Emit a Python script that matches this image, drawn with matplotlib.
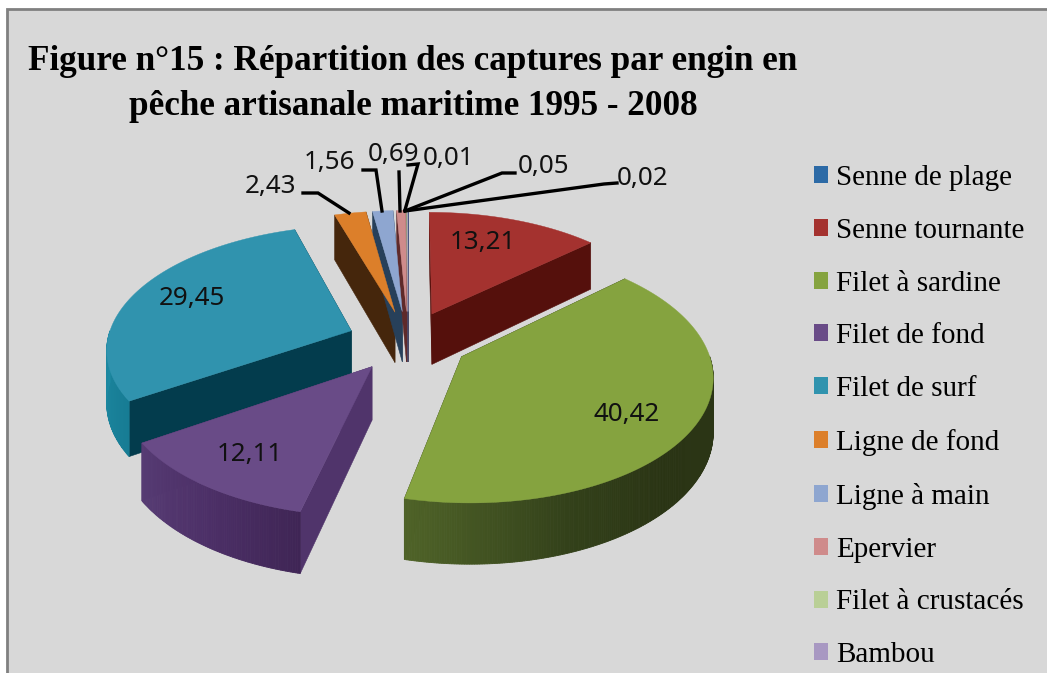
import numpy as np
import matplotlib
matplotlib.use('Agg')
import matplotlib.pyplot as plt
from matplotlib.patches import Patch, Rectangle

categories = ['Senne de plage', 'Senne tournante', 'Filet à sardine', 'Filet de fond', 'Filet de surf',
              'Ligne de fond', 'Ligne à main', 'Epervier', 'Filet à crustacés', 'Bambou']
values = [0.01, 13.21, 40.42, 12.11, 29.45, 2.43, 1.56, 0.69, 0.05, 0.02]
top_colors = ['#2c6aa6', '#a4322f', '#85a33f', '#694b87', '#3093ae', '#dc7f2a', '#8ea6d0', '#cf8b8b', '#b9cf96', '#a898c2']
side_colors = ['#173a5c', '#55100c', '#2c3616', '#50346b', '#033c4d', '#45260c', '#27405a', '#5f2a2a', '#5c6b45', '#4e4266']
# rim shading: (angle in degrees, colour), only the front of the pie shows a rim
rim_ramps = {2: [(90, '#2c3616'), (135, '#2a3414'), (160, '#33411a'), (193, '#4f6328')],
             3: [(193, '#3f2555'), (215, '#4d3068'), (237, '#573c74')],
             4: [(237, '#177c94'), (270, '#1d8aa3')]}

title = 'Figure n°15 : Répartition des captures par engin en\npêche artisanale maritime 1995 - 2008'

# label centres and leader lines, in pixels of the picture
inside_labels = {1: (483, 243), 2: (627, 415), 3: (250, 455), 4: (192, 299)}
outside_labels = {5: (270, 186), 6: (329, 162), 7: (394, 154), 0: (448, 158), 8: (544, 166), 9: (643, 178)}
leaders = {5: [(303, 193), (318, 193), (349, 213)],
           6: [(363, 170), (376, 170), (382, 211)],
           7: [(399, 172), (400, 211)],
           0: [(408, 165), (418, 164), (405, 210)],
           8: [(515, 173), (502, 173), (405, 211)],
           9: [(617, 183), (604, 184), (405, 211)]}

CX, CY = 408, 341
RADIUS = 244
EXPLODE = 61
SQUASH = 0.5
PERSP = 0.00055
DEPTH = 52


def project(x, y, z=0):
    p = 1 / (1 - PERSP * y)
    return CX + x * p, CY + SQUASH * y * p + z * p


def ramp_colors(ramp, angles):
    stops = [a for a, c in ramp]
    rgb = np.array([matplotlib.colors.to_rgb(c) for a, c in ramp])
    return [tuple(np.interp(a, stops, rgb[:, i]) for i in range(3)) for a in angles]


def draw_slice(ax, i, start, end):
    mid = np.radians((start + end) / 2)
    ex, ey = EXPLODE * np.sin(mid), -EXPLODE * np.cos(mid)
    ang = np.radians(np.linspace(start, end, max(int(end - start) * 2, 2)))
    xs = ex + RADIUS * np.sin(ang)
    ys = ey - RADIUS * np.cos(ang)

    # radial walls, the one further back first
    sides = sorted([0, -1], key=lambda k: ys[k])
    for k in sides:
        tx, ty = project(np.array([ex, xs[k]]), np.array([ey, ys[k]]))
        bx, by = project(np.array([ex, xs[k]]), np.array([ey, ys[k]]), DEPTH)
        ax.fill(np.r_[tx, bx[::-1]], np.r_[ty, by[::-1]], color=side_colors[i], lw=0.4, zorder=i_z(i))

    # outer wall, small quads so the shading can change along it
    if i in rim_ramps:
        for a0, a1 in zip(ang[:-1], ang[1:]):
            if np.cos((a0 + a1) / 2) > 0:
                continue
            x2 = ex + RADIUS * np.sin([a0, a1])
            y2 = ey - RADIUS * np.cos([a0, a1])
            tx, ty = project(x2, y2)
            bx, by = project(x2, y2, DEPTH)
            col = ramp_colors(rim_ramps[i], [np.degrees((a0 + a1) / 2)])[0]
            ax.fill(np.r_[tx, bx[::-1]], np.r_[ty, by[::-1]], color=col, lw=0.6, zorder=i_z(i))

    tx, ty = project(np.r_[ex, xs], np.r_[ey, ys])
    ax.fill(tx, ty, color=top_colors[i], lw=0.3, zorder=i_z(i) + 0.5)


def i_z(i):
    # painter order: back slices first, front slices last
    return {0: 2, 1: 3, 2: 7, 3: 6, 4: 5, 5: 2.1, 6: 2.2, 7: 2.3, 8: 2.4, 9: 2.5}[i]


fig = plt.figure(figsize=(10.47, 6.73), dpi=100, facecolor='white')
ax = fig.add_axes([0, 0, 1, 1])
ax.set_xlim(0, 1047)
ax.set_ylim(673, 0)
ax.axis('off')

ax.add_patch(Rectangle((7, 9), 1100, 700, facecolor='#d8d8d8', edgecolor='#808080', lw=2, zorder=0))

total = sum(values)
edges = np.r_[0, np.cumsum(values)] / total * 360
for i in range(len(values)):
    draw_slice(ax, i, edges[i], edges[i + 1])


def fmt(v):
    return ('%.2f' % v).replace('.', ',')


for i, pos in list(inside_labels.items()) + list(outside_labels.items()):
    ax.text(pos[0], pos[1], fmt(values[i]), family='Noto Sans', fontsize=18.7, color='#111111',
            ha='center', va='center', zorder=10)
for i, pts in leaders.items():
    ax.plot([p[0] for p in pts], [p[1] for p in pts], color='black', lw=2.4, zorder=9, solid_joinstyle='miter')

ax.text(413, 84, title, family='Liberation Serif', weight='bold', fontsize=25.3, color='black',
        ha='center', va='center', linespacing=1.48, zorder=10)

handles = [Patch(facecolor=c, edgecolor='none', label=n) for c, n in zip(top_colors, categories)]
ax.legend(handles=handles, loc='upper left', bbox_to_anchor=(808 / 1047, 1 - 159 / 673), frameon=False,
          prop={'family': 'Liberation Serif', 'size': 21}, labelcolor='black', handlelength=0.48,
          handleheight=0.52, handletextpad=0.27, labelspacing=0.92, borderpad=0.2, borderaxespad=0)

fig.savefig('out.png', dpi=100, facecolor='white')
